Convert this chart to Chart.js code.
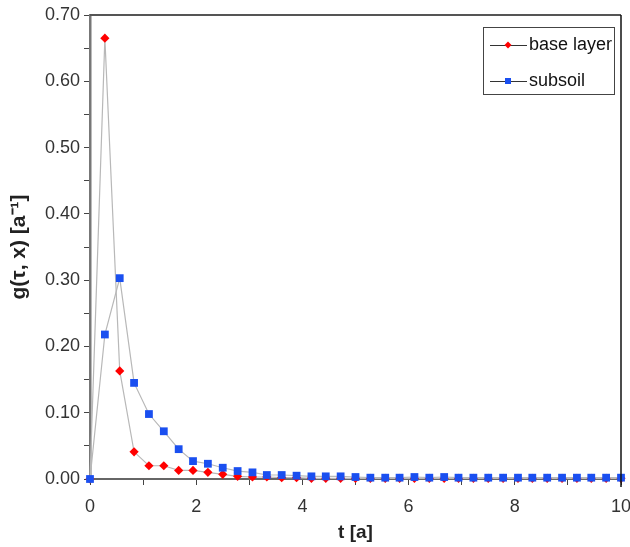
<!DOCTYPE html>
<html>
<head>
<meta charset="utf-8">
<script src="https://cdn.jsdelivr.net/npm/chart.js@4.4.1/dist/chart.umd.min.js"></script>
<style>
  html, body { margin: 0; padding: 0; background: #fff; }
  #wrap { width: 630px; height: 547px; }
</style>
</head>
<body>
<div id="wrap"><canvas id="chart" width="630" height="547"></canvas></div>
<script>
// time steps t [a]
const tValues = [0, 0.28, 0.56, 0.83, 1.11, 1.39, 1.67, 1.94, 2.22, 2.5, 2.78, 3.06, 3.33,
  3.61, 3.89, 4.17, 4.44, 4.72, 5.0, 5.28, 5.56, 5.83, 6.11, 6.39, 6.67, 6.94, 7.22,
  7.5, 7.78, 8.06, 8.33, 8.61, 8.89, 9.17, 9.44, 9.72, 10.0];

const baseLayer = [0, 0.665, 0.163, 0.041, 0.020, 0.020, 0.013, 0.013, 0.010, 0.007, 0.004,
  0.003, 0.003, 0.002, 0.002, 0.001, 0.001, 0.001, 0.001, 0.001, 0.001, 0.001, 0.001,
  0.001, 0.001, 0.001, 0.001, 0.001, 0.001, 0.001, 0.001, 0.001, 0.001, 0.001, 0.001,
  0.001, 0.001];

const subsoil = [0, 0.218, 0.303, 0.145, 0.098, 0.072, 0.045, 0.027, 0.023, 0.017, 0.012,
  0.010, 0.006, 0.006, 0.005, 0.004, 0.004, 0.004, 0.003, 0.002, 0.002, 0.002, 0.003,
  0.002, 0.003, 0.002, 0.002, 0.002, 0.002, 0.002, 0.002, 0.002, 0.002, 0.002, 0.002,
  0.002, 0.002];

const seriesNames = ['base layer', 'subsoil'];
const seriesColors = ['#ff0000', '#1a4ff0'];

function toPoints(ys) {
    return tValues.map((t, i) => ({ x: t, y: ys[i] }));
}

// frame (top + right) and the boxed legend
const framePlugin = {
    id: 'frame',
    afterDraw(chart) {
        const { ctx, chartArea: a } = chart;
        ctx.save();
        ctx.strokeStyle = '#555';
        ctx.lineWidth = 2;
        ctx.beginPath();
        ctx.moveTo(a.left, a.top);
        ctx.lineTo(a.right, a.top);
        ctx.stroke();
        ctx.strokeStyle = '#111';
        ctx.lineWidth = 1.5;
        ctx.beginPath();
        ctx.moveTo(a.right, a.top);
        ctx.lineTo(a.right, a.bottom + 8);
        ctx.stroke();

        // legend
        const bx = 483, by = 27, bw = 131, bh = 67;
        ctx.fillStyle = '#fff';
        ctx.fillRect(bx, by, bw, bh);
        ctx.strokeStyle = '#444';
        ctx.lineWidth = 1;
        ctx.strokeRect(bx + 0.5, by + 0.5, bw, bh);
        const rows = [45, 81];
        ctx.font = '18px "Liberation Sans", Arial, sans-serif';
        ctx.textBaseline = 'middle';
        rows.forEach((y, i) => {
            ctx.strokeStyle = '#333';
            ctx.lineWidth = 1;
            ctx.beginPath();
            ctx.moveTo(490, y + 0.5);
            ctx.lineTo(527, y + 0.5);
            ctx.stroke();
            ctx.fillStyle = seriesColors[i];
            ctx.beginPath();
            if (i === 0) {
                ctx.moveTo(508, y - 3.5);
                ctx.lineTo(511.5, y);
                ctx.lineTo(508, y + 3.5);
                ctx.lineTo(504.5, y);
                ctx.closePath();
            } else {
                ctx.rect(505, y - 3, 6, 6);
            }
            ctx.fill();
            ctx.fillStyle = '#111';
            ctx.fillText(seriesNames[i], 529, y);
        });
        ctx.restore();
    }
};

const ctx = document.getElementById('chart').getContext('2d');
new Chart(ctx, {
    type: 'scatter',
    data: {
        datasets: [
            {
                label: seriesNames[1],
                data: toPoints(subsoil),
                showLine: true,
                clip: false,
                borderColor: '#b8b8b8',
                borderWidth: 1.2,
                pointStyle: 'rect',
                pointRadius: 5.5,
                pointBackgroundColor: seriesColors[1],
                pointBorderColor: seriesColors[1],
                pointBorderWidth: 0,
                order: 2
            },
            {
                label: seriesNames[0],
                data: toPoints(baseLayer),
                showLine: true,
                clip: false,
                borderColor: '#b8b8b8',
                borderWidth: 1.2,
                pointStyle: 'rectRot',
                pointRadius: 4.6,
                pointBackgroundColor: seriesColors[0],
                pointBorderColor: seriesColors[0],
                pointBorderWidth: 0,
                order: 3
            }
        ]
    },
    options: {
        responsive: false,
        animation: false,
        layout: { padding: { left: 0, right: 9, top: 15, bottom: 0 } },
        plugins: {
            legend: { display: false },
            tooltip: { enabled: false }
        },
        scales: {
            x: {
                type: 'linear',
                min: 0,
                max: 10,
                afterFit(scale) {
                    scale.height = 68;
                    scale.paddingLeft = 0;
                    scale.paddingRight = 0;
                },
                ticks: {
                    stepSize: 1,
                    autoSkip: false,
                    maxRotation: 0,
                    padding: 11,
                    color: '#333',
                    font: { family: '"Liberation Sans", Arial, sans-serif', size: 18 },
                    callback: v => (v % 2 === 0 ? String(v) : '')
                },
                grid: { drawOnChartArea: false, tickLength: 6, color: '#444' },
                border: { color: '#666', width: 2 },
                title: {
                    display: true,
                    text: 't [a]',
                    color: '#222',
                    padding: { top: 0, bottom: 3 },
                    font: { family: '"Liberation Sans", Arial, sans-serif', size: 19, weight: 'bold' }
                }
            },
            y: {
                min: 0,
                max: 0.7,
                afterFit(scale) {
                    scale.width = 90;
                    scale.paddingTop = 0;
                    scale.paddingBottom = 0;
                },
                ticks: {
                    stepSize: 0.05,
                    autoSkip: false,
                    padding: 4,
                    color: '#333',
                    font: { family: '"Liberation Sans", Arial, sans-serif', size: 18 },
                    callback: v => {
                        const r = Math.round(v * 100);
                        return r % 10 === 0 ? (r / 100).toFixed(2) : '';
                    }
                },
                grid: { drawOnChartArea: false, tickLength: 6, color: '#444' },
                border: { color: '#777', width: 2.5 },
                title: {
                    display: true,
                    text: 'g(τ, x) [a⁻¹]',
                    color: '#222',
                    padding: { top: 7, bottom: 0 },
                    font: { family: '"Liberation Sans", Arial, sans-serif', size: 21, weight: 'bold' }
                }
            }
        }
    },
    plugins: [framePlugin]
});
</script>
</body>
</html>
